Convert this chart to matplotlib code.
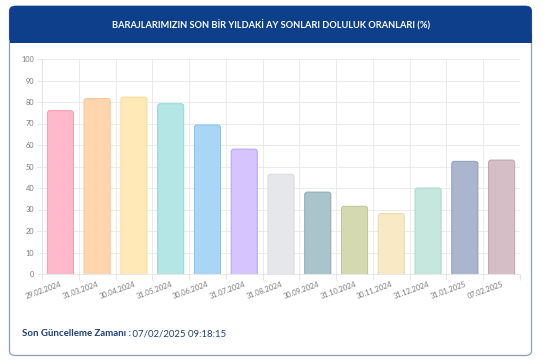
import matplotlib
matplotlib.use("Agg")
import matplotlib.pyplot as plt
from matplotlib.patches import FancyBboxPatch, Rectangle

categories = ["29.02.2024", "31.03.2024", "30.04.2024", "31.05.2024", "30.06.2024",
              "31.07.2024", "31.08.2024", "30.09.2024", "31.10.2024", "30.11.2024",
              "31.12.2024", "31.01.2025", "07.02.2025"]
values = [76.0, 81.6, 82.3, 79.2, 69.3, 58.1, 46.4, 38.1, 31.5, 28.1, 40.0, 52.4, 53.0]
fill_colors = ["#FFB9CA", "#FFD6AE", "#FFE9B6", "#B5E6E6", "#A9D6F6", "#D6C4FF", "#E6E7EA",
               "#A9C5CB", "#D4D9AF", "#F7EAC5", "#C6E7DE", "#A9B6CE", "#D6BEC6"]
edge_colors = ["#F79AB0", "#F9C28E", "#F8DA95", "#92D6D6", "#86C2EE", "#B7A0F0", "#DADBDE",
               "#8AAAB1", "#BEC494", "#EBD9A8", "#A8D8CA", "#8B9ABA", "#BFA3AD"]
title = "BARAJLARIMIZIN SON BİR YILDAKİ AY SONLARI DOLULUK ORANLARI (%)"
footer_bold = "Son Güncelleme Zamanı :"
footer_time = " 07/02/2025 09:18:15"

W, H = 546, 364
fig = plt.figure(figsize=(W / 100, H / 100), dpi=100)
fig.patch.set_facecolor("white")

def fx(px):
    return px / W

def fy(py):
    return 1 - py / H

# card
card = FancyBboxPatch((fx(9.5), fy(355.5)), fx(531.5) - fx(9.5), fy(8) - fy(355.5),
                      boxstyle="round,pad=0,rounding_size=0.012", transform=fig.transFigure,
                      facecolor="white", edgecolor="#8E9DBB", linewidth=0.9, zorder=-2)
fig.patches.append(card)
header = FancyBboxPatch((fx(9.5), fy(42.5)), fx(531.5) - fx(9.5), fy(6) - fy(42.5),
                        boxstyle="round,pad=0,rounding_size=0.012", transform=fig.transFigure,
                        facecolor="#0E3F8B", edgecolor="#0E3F8B", linewidth=0.5, zorder=-1)
fig.patches.append(header)
fig.patches.append(Rectangle((fx(9.5), fy(42.5)), fx(531.5) - fx(9.5), fy(34) - fy(42.5),
                             transform=fig.transFigure, facecolor="#0E3F8B",
                             edgecolor="none", zorder=-1))
fig.text(fx(271), fy(25.5), title, color="white", fontsize=6.7, fontweight="bold",
         family=["Lato", "DejaVu Sans"], ha="center", va="center", zorder=3)

# axes
ax = fig.add_axes([fx(42), fy(274), fx(520) - fx(42), fy(59) - fy(274)])
ax.set_zorder(5)
ax.set_facecolor("none")
n = len(categories)
x = list(range(n))
bars = ax.bar(x, values, width=0.71, color=fill_colors, edgecolor=edge_colors, linewidth=0.7, zorder=3)
for rect, fc, ec in zip(bars, fill_colors, edge_colors):
    rect.set_visible(False)
    rb = FancyBboxPatch((rect.get_x(), rect.get_y() - 3), rect.get_width(), rect.get_height() + 3,
                        boxstyle="round,pad=0,rounding_size=0.07", mutation_aspect=17.1,
                        facecolor=fc, edgecolor=ec, linewidth=0.7, zorder=3, clip_on=True)
    ax.add_patch(rb)

ax.set_xlim(-0.5, n - 0.5)
ax.set_ylim(0, 100)
ax.set_yticks(range(0, 101, 10))
ax.tick_params(axis="y", labelsize=5.3, labelcolor="#7A7A7A", color="#E3E3E3", length=3.5, width=0.6, pad=2)
ax.set_xticks(x)
ax.set_xticklabels(categories, rotation=20, ha="right", rotation_mode="anchor",
                   fontsize=5.3, color="#7A7A7A")
ax.tick_params(axis="x", length=0, pad=5)
ax.set_xticks([i - 0.5 for i in range(n + 1)], minor=True)
ax.tick_params(axis="x", which="minor", length=4, color="#E3E3E3", width=0.6)
ax.grid(True, axis="y", which="major", color="#E8E8E8", linewidth=0.6, zorder=0)
ax.grid(True, axis="x", which="minor", color="#E8E8E8", linewidth=0.6, zorder=0)
for s in ["top", "right"]:
    ax.spines[s].set_visible(False)
ax.spines["left"].set_color("#E3E3E3")
ax.spines["bottom"].set_color("#E3E3E3")
ax.spines["left"].set_linewidth(0.6)
ax.spines["bottom"].set_linewidth(0.6)
for lbl in ax.get_yticklabels():
    lbl.set_family(["Lato", "DejaVu Sans"])
for lbl in ax.get_xticklabels():
    lbl.set_family(["Lato", "DejaVu Sans"])

# footer
t1 = fig.text(fx(21.5), fy(334), footer_bold, color="#1E3E7E", fontsize=6.9, fontweight="bold",
              family=["Lato", "DejaVu Sans"], ha="left", va="center")
fig.canvas.draw()
bb = t1.get_window_extent()
fig.text(bb.x1 / W, fy(334), footer_time, color="#1E3E7E", fontsize=6.9,
         family=["Lato", "DejaVu Sans"], ha="left", va="center")

fig.savefig("out.png", dpi=100, facecolor="white")
